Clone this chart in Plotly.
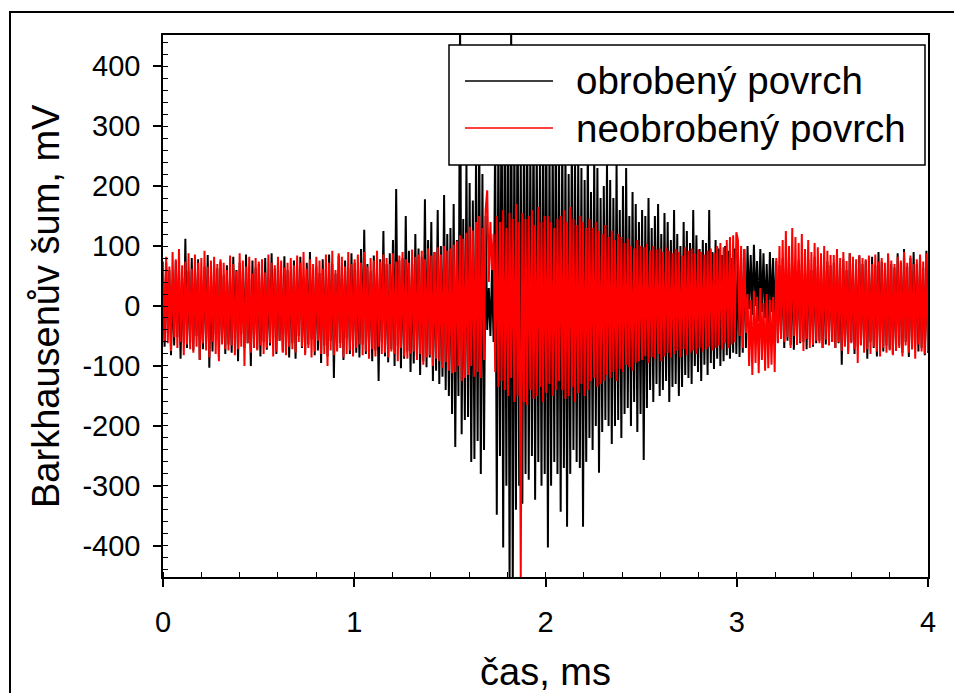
import numpy as np
import plotly.graph_objects as go

# Barkhausen noise, mV (120 samples per ms)
obrobeny = [
    55, -68, 72, -45, 60, -82, 38, -66, 75, -52, 64, -88, 47, -60, 112, -70, 58, -62, 80, -74,
    62, -50, 78, -90, 44, -72, 66, -58, 85, -103, 50, -76, 70, -48, 63, -85, 74, -60, 52, -80,
    68, -64, 49, -78, 82, -55, 60, -92, 72, -47, 58, -70, 86, -62, 45, -100, 76, -58, 64, -72,
    70, -84, 57, -60, 80, -73, 46, -66, 88, -54, 62, -80, 74, -58, 52, -76, 83, -68, 60, -86,
    58, -62, 76, -88, 64, -50, 82, -70, 48, -78, 72, -64, 90, -56, 60, -82, 66, -74, 55, -95,
    78, -66, 62, -84, 86, -58, 70, -120, 54, -72, 84, -62, 68, -90, 76, -54, 63, -80, 88, -68,
    72, -78, 60, -86, 95, -64, 127, -80, 70, -68, 58, -92, 84, -74, 66, -125, 78, -60, 125, -84,
    70, -94, 88, -72, 110, -100, 195, -66, 76, -104, 80, -88, 150, -76, 92, -110, 70, -96, 120, -84,
    96, -115, 82, -92, 178, -102, 110, -86, 140, -125, 90, -108, 160, -130, 100, -118, 185, -140, 120, -150,
    130, -180, 170, -235, 110, -150, 480, -214, 145, -190, 238, -185, 205, -260, 176, -255, 250, -225, 300, -280,
    220, -240, 150, -40, 30, -50, 60, -60, 285, -348, 300, -250, 420, -403, 330, -300, 380, -470, 470, -470,
    310, -340, 390, -300, 260, -330, 300, -280, 350, -290, 270, -250, 330, -323, 280, -260, 240, -300, 350, -280,
    330, -403, 270, -300, 290, -260, 350, -280, 240, -343, 300, -270, 260, -368, 220, -280, 300, -240, 250, -260,
    250, -270, 230, -368, 210, -260, 280, -220, 190, -240, 250, -200, 230, -278, 180, -210, 200, -190, 240, -200,
    210, -230, 180, -200, 240, -190, 160, -220, 200, -180, 230, -170, 150, -200, 190, -160, 170, -210, 140, -180,
    160, -257, 150, -170, 180, -140, 130, -160, 150, -130, 170, -150, 120, -140, 155, -125, 140, -160, 110, -135,
    160, -130, 120, -150, 100, -135, 140, -115, 125, -120, 105, -130, 160, -100, 118, -110, 95, -125, 110, -98,
    105, -115, 160, -95, 90, -105, 110, -88, 96, -100, 85, -92, 100, -82, 92, -88, 80, -78, 96, -80,
    90, -85, 80, -78, 95, -70, 100, -5, 85, -15, 102, 0, 75, -25, 95, -10, 88, -20, 70, -30,
    90, -10, 80, -20, 75, -60, 68, -55, 80, -70, 62, -58, 72, -65, 66, -73, 58, -52, 76, -62,
    70, -60, 64, -72, 78, -56, 60, -68, 82, -62, 66, -58, 72, -70, 60, -64, 74, -55, 68, -60,
    72, -70, 85, -62, 64, -98, 78, -66, 60, -75, 88, -60, 70, -80, 62, -68, 84, -64, 70, -72,
    76, -88, 62, -60, 82, -70, 68, -84, 90, -62, 74, -76, 60, -66, 86, -72, 70, -80, 64, -70,
    88, -66, 72, -78, 95, -60, 66, -85, 80, -72, 90, -64, 70, -76, 84, -70, 64, -82, 92, -78,
]
neobrobeny = [
    74, -58, 82, -62, 66, -75, 90, -52, 78, -70, 95, -60, 68, -82, 74, -64, 88, -72, 62, -78,
    86, -68, 72, -90, 80, -62, 92, -74, 66, -86, 76, -60, 82, -80, 70, -92, 78, -64, 72, -72,
    60, -74, 84, -66, 70, -82, 58, -72, 88, -68, 76, -100, 66, -62, 82, -78, 54, -70, 80, -74,
    74, -66, 78, -80, 56, -70, 86, -62, 72, -84, 68, -76, 82, -58, 76, -78, 64, -82, 72, -68,
    80, -72, 68, -78, 84, -60, 72, -68, 90, -82, 62, -70, 78, -86, 70, -76, 82, -58, 76, -80,
    62, -80, 86, -100, 72, -74, 92, -82, 60, -76, 88, -70, 82, -86, 66, -80, 90, -74, 70, -84,
    78, -70, 86, -64, 72, -82, 90, -76, 66, -88, 80, -72, 76, -84, 92, -68, 74, -80, 86, -78,
    80, -86, 70, -76, 88, -80, 74, -92, 84, -70, 90, -84, 78, -88, 72, -80, 94, -76, 82, -90,
    86, -80, 92, -98, 78, -86, 96, -82, 84, -100, 90, -88, 98, -92, 86, -104, 100, -94, 92, -108,
    96, -112, 102, -110, 108, -100, 118, -125, 112, -120, 122, -115, 132, -100, 126, -118, 140, -110, 150, -120,
    130, -90, 160, 193, 40, 140, 60, 120, -110, 150, -135, 140, -125, 160, -140, 130, -150, 155, -120, 145,
    -160, 170, -150, 140, -452, 155, -160, 145, -165, 150, -140, 160, -155, 135, -150, 165, -135, 140, -160, 150,
    -145, 150, -130, 140, -150, 130, -140, 145, -125, 150, -140, 160, -155, 140, -150, 165, -135, 145, -160, 135,
    -145, 150, -130, 140, -150, 130, -140, 145, -125, 130, -120, 140, -135, 125, -130, 120, -125, 135, -115, 115,
    -120, 125, -110, 110, -125, 120, -105, 115, -110, 105, -98, 112, -102, 100, -108, 96, -95, 110, -92, 100,
    -90, 98, -84, 104, -95, 92, -85, 100, -88, 94, -80, 96, -92, 90, -84, 98, -78, 92, -86, 88,
    -80, 95, -75, 90, -86, 84, -72, 98, -82, 92, -78, 96, -74, 88, -80, 94, -70, 90, -76, 86,
    -72, 92, -68, 96, -74, 88, -70, 100, -66, 105, -72, 98, -62, 110, -70, 115, -64, 118, -60, 123,
    110, -50, 100, -70, 95, -45, 20, -100, 10, -115, 25, -95, 15, -112, 30, -90, 5, -108, 20, -104,
    10, -98, 15, -110, 80, -62, 100, -55, 110, -60, 125, -52, 100, -70, 130, -50, 115, -65, 105, -60,
    120, -75, 95, -55, 110, -70, 90, -65, 105, -58, 98, -62, 88, -70, 100, -56, 92, -66, 85, -60,
    85, -70, 95, -60, 80, -75, 90, -68, 75, -80, 88, -62, 82, -72, 78, -95, 85, -66, 80, -78,
    78, -72, 84, -80, 70, -68, 86, -76, 74, -84, 80, -70, 72, -78, 88, -74, 76, -82, 70, -75,
    82, -70, 76, -84, 90, -66, 72, -78, 84, -72, 70, -88, 78, -64, 86, -76, 74, -80, 88, -76,
]
series_names = ["obrobený povrch", "neobrobený povrch"]
series_colors = ["#000000", "#ff0000"]
x_ticks = [0, 1, 2, 3, 4]
y_ticks = [-400, -300, -200, -100, 0, 100, 200, 300, 400]
y_ticktext = ["-400", "-300", "-200", "-100", "0", "100", "200", "300", "400"]

font_family = "Arial, Liberation Sans, sans-serif"

# plot box as it should appear on the page; the page body adds an 8px offset
page_off = 8
left, right, top, bottom = 163, 928, 35, 577
pw, ph = right - left, bottom - top


def px(x):
    return (x - left) / pw


def py(y):
    return (bottom - y) / ph


fig = go.Figure()
for vals, name, color in zip([obrobeny, neobrobeny], series_names, series_colors):
    t = np.linspace(0, 4, len(vals))
    fig.add_trace(go.Scatter(x=t, y=vals, mode="lines", name=name,
                             line=dict(color=color, width=2)))

axis_common = dict(
    showline=True, linecolor="black", linewidth=1.5, mirror=True,
    showgrid=False, zeroline=False,
    ticks="outside", ticklen=8, tickwidth=1.5, tickcolor="black",
    tickfont=dict(family=font_family, size=29, color="black"),
)
fig.update_xaxes(
    range=[0, 4], tickvals=x_ticks, ticklabelstandoff=10,
    minor=dict(dtick=0.2, ticks="inside", ticklen=5, tickwidth=1.2, tickcolor="black", showgrid=False),
    **axis_common,
)
fig.update_yaxes(
    range=[-452, 452], tickvals=y_ticks, ticktext=y_ticktext, ticklabelstandoff=7,
    minor=dict(dtick=20, ticks="inside", ticklen=5, tickwidth=1.2, tickcolor="black", showgrid=False),
    **axis_common,
)

shapes = [
    # outer frame
    dict(type="rect", xref="paper", yref="paper", x0=px(10), x1=px(1000), y0=py(740), y1=py(12),
         line=dict(color="black", width=2), layer="below"),
    # legend box
    dict(type="rect", xref="paper", yref="paper", x0=px(449), x1=px(925), y0=py(165), y1=py(45),
         line=dict(color="black", width=1.5), fillcolor="white", layer="above"),
]
annotations = [
    dict(text="Barkhausenův šum, mV", xref="paper", yref="paper", x=px(46), y=py(306),
         textangle=-90, showarrow=False, xanchor="center", yanchor="middle",
         font=dict(family=font_family, size=38, color="black")),
    dict(text="čas, ms", xref="paper", yref="paper", x=0.5, y=py(672),
         showarrow=False, xanchor="center", yanchor="middle",
         font=dict(family=font_family, size=38, color="black")),
]
for i, (name, color) in enumerate(zip(series_names, series_colors)):
    ly = 81 + 47 * i
    shapes.append(dict(type="line", xref="paper", yref="paper", x0=px(465), x1=px(553),
                       y0=py(ly), y1=py(ly), line=dict(color=color, width=1.5), layer="above"))
    annotations.append(dict(text=name, xref="paper", yref="paper", x=px(574), y=py(ly),
                            showarrow=False, xanchor="left", yanchor="middle",
                            font=dict(family=font_family, size=38.5, color="black")))

fig.update_layout(
    width=962, height=693,
    margin=dict(l=left - page_off, r=962 - right + page_off, t=top - page_off, b=693 - bottom + page_off),
    plot_bgcolor="white", paper_bgcolor="white",
    showlegend=False,
    shapes=shapes, annotations=annotations,
)

fig.write_html("out.html")
